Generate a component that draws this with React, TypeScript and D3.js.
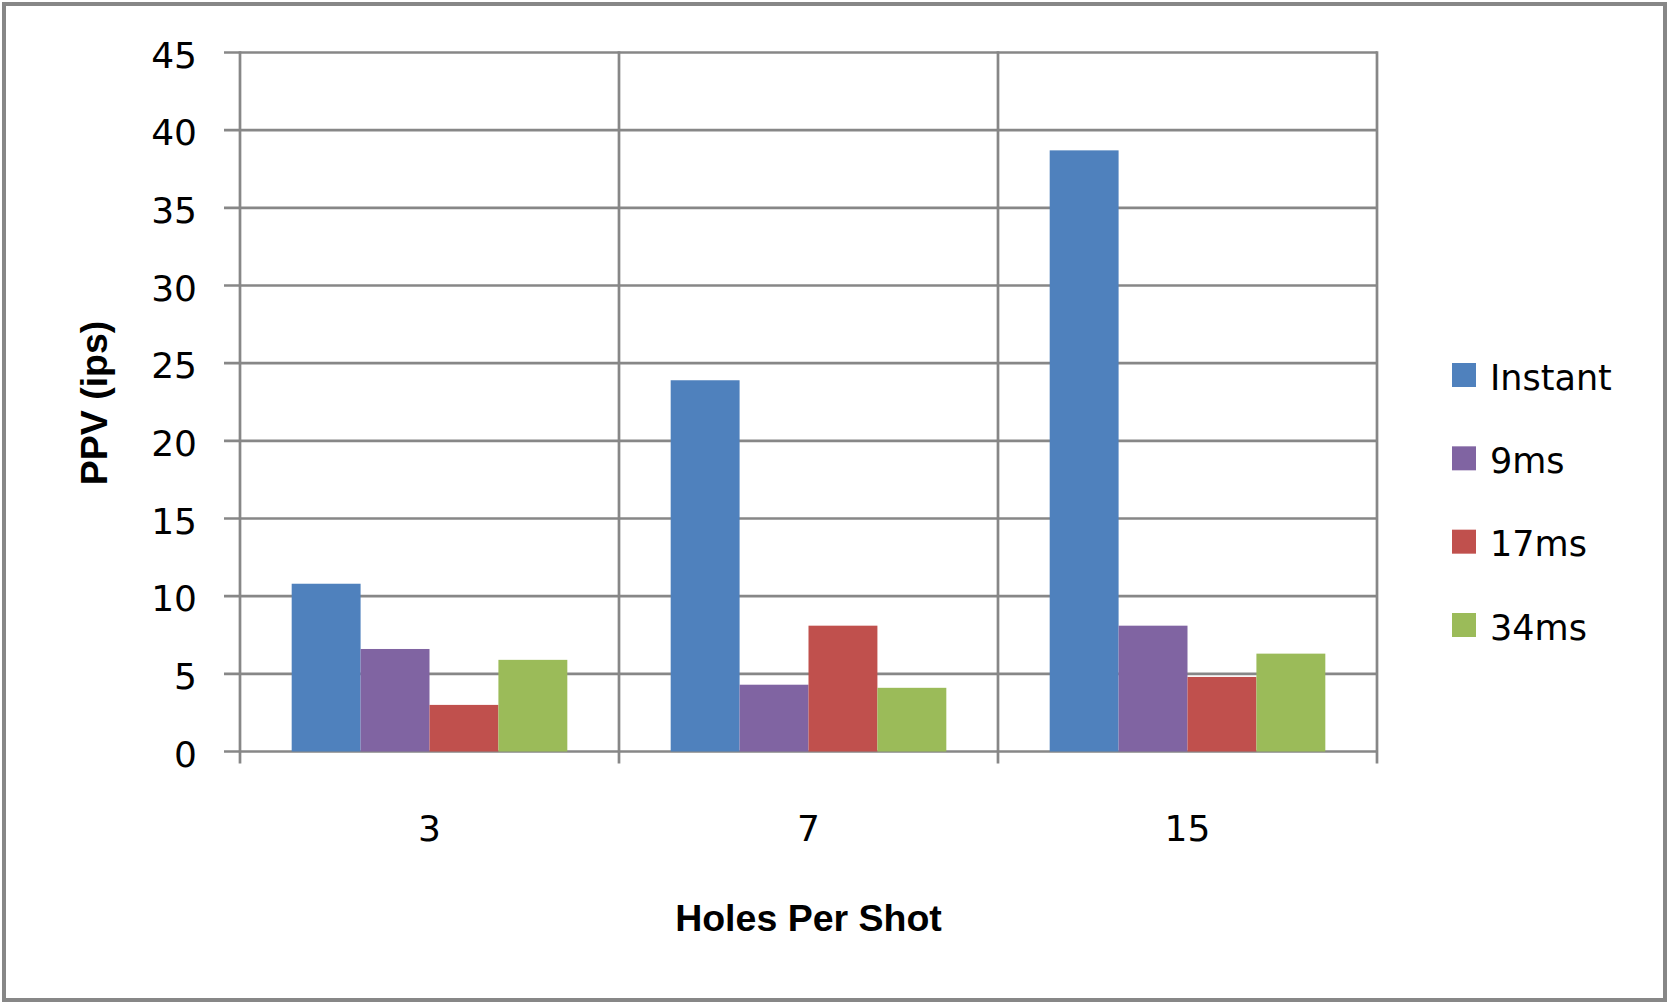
import React from "react";
import * as d3 from "d3";

const categories = ["3", "7", "15"];
const seriesNames = ["Instant", "9ms", "17ms", "34ms"];
const instant = [10.8, 23.9, 38.7];
const ms9 = [6.6, 4.3, 8.1];
const ms17 = [3.0, 8.1, 4.8];
const ms34 = [5.9, 4.1, 6.3];
const yTicks = [0, 5, 10, 15, 20, 25, 30, 35, 40, 45];
const colors = ["#4F81BD", "#8064A2", "#C0504D", "#9BBB59"];

const seriesValues = [instant, ms9, ms17, ms34];

const W = 1667;
const H = 1002;
const grid = "#878787";
const tickFont = "'DejaVu Sans', Verdana, sans-serif";
const titleFont = "'Liberation Sans', Arial, sans-serif";

export default function App() {
  const x = d3.scaleBand().domain(categories).range([240, 1377]).paddingInner(0).paddingOuter(0);
  const inner = d3
    .scaleBand()
    .domain(seriesNames)
    .range([0, x.bandwidth()])
    .paddingInner(0)
    .paddingOuter(0.75);
  const y = d3.scaleLinear().domain([0, 45]).range([751.5, 52.5]);
  const legendY = d3.scaleLinear().domain([0, seriesNames.length - 1]).range([375, 625]);

  const xBottom = y(0) + 12;
  const xEdges = [...categories.map((c) => x(c)!), x.range()[1]];

  return (
    <svg
      width={W}
      height={H}
      style={{ position: "absolute", left: 0, top: 0, background: "#fff" }}
    >
      <rect x={0} y={0} width={W} height={H} fill="#fff" />
      <rect x={4} y={4} width={W - 6} height={H - 6} fill="none" stroke={grid} strokeWidth={4} />

      {/* horizontal gridlines + y ticks */}
      {yTicks.map((t) => (
        <line key={"g" + t} x1={224} x2={1377} y1={y(t)} y2={y(t)} stroke={grid} strokeWidth={2.7} />
      ))}

      {/* bars */}
      {seriesNames.map((s, si) =>
        categories.map((c, ci) => {
          const v = seriesValues[si][ci];
          return (
            <rect
              key={s + c}
              x={x(c)! + inner(s)!}
              y={y(v)}
              width={inner.bandwidth()}
              height={y(0) - y(v)}
              fill={colors[si]}
            />
          );
        })
      )}

      {/* vertical lines: axis, category separators, right edge */}
      {xEdges.map((ex, i) => (
        <line key={"v" + i} x1={ex} x2={ex} y1={y(45) - 1.3} y2={xBottom} stroke={grid} strokeWidth={2.7} />
      ))}

      {/* y tick labels */}
      {yTicks.map((t) => (
        <text
          key={"yl" + t}
          x={197}
          y={y(t) + 15}
          textAnchor="end"
          fontFamily={tickFont}
          fontSize={36}
          fill="#000"
        >
          {t}
        </text>
      ))}

      {/* x tick labels */}
      {categories.map((c) => (
        <text
          key={"xl" + c}
          x={x(c)! + x.bandwidth() / 2}
          y={841}
          textAnchor="middle"
          fontFamily={tickFont}
          fontSize={36}
          fill="#000"
        >
          {c}
        </text>
      ))}

      {/* axis titles */}
      <text
        x={808.5}
        y={931}
        textAnchor="middle"
        fontFamily={titleFont}
        fontWeight="bold"
        fontSize={37.5}
        fill="#000"
      >
        Holes Per Shot
      </text>
      <text
        transform={`translate(107,403) rotate(-90)`}
        textAnchor="middle"
        fontFamily={titleFont}
        fontWeight="bold"
        fontSize={37.5}
        fill="#000"
      >
        PPV (ips)
      </text>

      {/* legend */}
      {seriesNames.map((s, i) => (
        <g key={"lg" + s} transform={`translate(0,${legendY(i)})`}>
          <rect x={1452} y={-12} width={24} height={24} fill={colors[i]} />
          <text x={1490} y={14.5} fontFamily={tickFont} fontSize={35} fill="#000">
            {s}
          </text>
        </g>
      ))}
    </svg>
  );
}
